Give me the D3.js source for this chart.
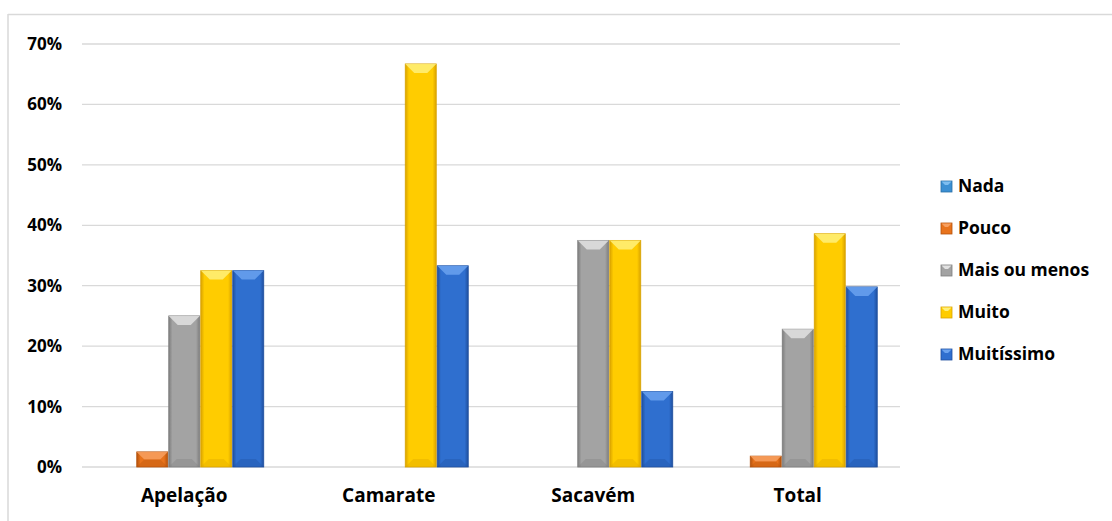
<!DOCTYPE html>
<html>
<head>
<meta charset="utf-8">
<script src="https://cdn.jsdelivr.net/npm/d3@7"></script>
<style>
html,body{margin:0;padding:0;background:#fff;}
svg{display:block;}
text{font-family:"Open Sans",sans-serif;font-weight:bold;fill:#000;}
</style>
</head>
<body>
<svg id="chart" width="1112" height="521"></svg>
<script>
const categories = ["Apelação", "Camarate", "Sacavém", "Total"];
const seriesNames = ["Nada", "Pouco", "Mais ou menos", "Muito", "Muitíssimo"];
const nada = [0, 0, 0, 0];
const pouco = [0.025, 0, 0, 0.018];
const maisOuMenos = [0.25, 0, 0.375, 0.228];
const muito = [0.325, 0.667, 0.375, 0.386];
const muitissimo = [0.325, 0.333, 0.125, 0.298];
const yTicks = [0, 0.1, 0.2, 0.3, 0.4, 0.5, 0.6, 0.7];
const colors = ["#3b8fd3", "#e8731c", "#a3a3a3", "#ffcc00", "#2f6fcf"];
const darkColors = ["#2a6ea6", "#b4520c", "#7d7d7d", "#d9a300", "#1f4f9e"];
const lightColors = ["#7dbdf0", "#f7a060", "#e2e2e2", "#fff07a", "#6aa2ee"];

const seriesValues = [nada, pouco, maisOuMenos, muito, muitissimo];
const FONT = "'Open Sans', sans-serif";

const svg = d3.select("#chart");
const defs = svg.append("defs");

// frame
svg.append("line").attr("x1", 8).attr("x2", 1112).attr("y1", 14.5).attr("y2", 14.5)
  .attr("stroke", "#d9d9d9").attr("stroke-width", 1.5);
svg.append("line").attr("x1", 8).attr("x2", 8).attr("y1", 14).attr("y2", 521)
  .attr("stroke", "#d9d9d9").attr("stroke-width", 1.5);

const x0 = d3.scaleBand().domain(categories).range([82, 900]).paddingInner(0.2176).paddingOuter(0.1088);
const x1 = d3.scaleBand().domain(seriesNames).range([0, x0.bandwidth()]);
const y = d3.scaleLinear().domain([0, 0.7]).range([467, 44]);

// gridlines
svg.append("g").selectAll("line").data(yTicks).join("line")
  .attr("x1", 82).attr("x2", 900)
  .attr("y1", d => y(d)).attr("y2", d => y(d))
  .attr("stroke", "#d9d9d9").attr("stroke-width", 1.3);

// y axis labels
const yAxis = d3.axisLeft(y).tickValues(yTicks).tickFormat(d3.format(".0%")).tickSize(0).tickPadding(0);
const gy = svg.append("g").attr("transform", "translate(62,0)").call(yAxis);
gy.select(".domain").remove();
gy.selectAll("text").style("font-size", "17px").style("font-family", FONT).style("font-weight", "bold").attr("fill", "#000");

// x axis labels
const xAxis = d3.axisBottom(x0).tickSize(0).tickPadding(0);
const gx = svg.append("g").attr("transform", "translate(0,488)").call(xAxis);
gx.select(".domain").remove();
gx.selectAll("text").style("font-size", "19px").style("font-family", FONT).style("font-weight", "bold").attr("fill", "#000").attr("dy", "0.71em");

// gradients
seriesNames.forEach((s, i) => {
  const g = defs.append("linearGradient").attr("id", "g" + i).attr("x1", "0").attr("x2", "1").attr("y1", "0").attr("y2", "0");
  g.append("stop").attr("offset", "0").attr("stop-color", darkColors[i]);
  g.append("stop").attr("offset", "0.12").attr("stop-color", colors[i]);
  g.append("stop").attr("offset", "0.5").attr("stop-color", colors[i]);
  g.append("stop").attr("offset", "0.88").attr("stop-color", colors[i]);
  g.append("stop").attr("offset", "1").attr("stop-color", darkColors[i]);
});

const data = [];
categories.forEach((c, ci) => {
  seriesNames.forEach((s, si) => {
    data.push({cat: c, ser: s, si: si, v: seriesValues[si][ci]});
  });
});

const bars = svg.append("g").selectAll("g").data(data.filter(d => d.v > 0)).join("g")
  .attr("transform", d => `translate(${x0(d.cat) + x1(d.ser)},0)`);

const bw = x1.bandwidth();
bars.append("rect")
  .attr("x", 0.5).attr("width", bw - 1)
  .attr("y", d => y(d.v)).attr("height", d => y(0) - y(d.v))
  .attr("fill", d => `url(#g${d.si})`)
  .attr("stroke", d => darkColors[d.si]).attr("stroke-width", 0.8);
// top bevel
bars.append("path")
  .attr("d", d => {
    const t = y(d.v), h = y(0) - t, b = Math.min(9, h / 2);
    return `M0.5,${t} L${bw - 0.5},${t} L${bw - 0.5 - b},${t + b} L${0.5 + b},${t + b} Z`;
  })
  .attr("fill", d => lightColors[d.si]).attr("opacity", 0.85);
// bottom bevel
bars.append("path")
  .attr("d", d => {
    const t = y(d.v), bot = y(0), h = bot - t, b = Math.min(8, h / 2);
    return `M0.5,${bot} L${bw - 0.5},${bot} L${bw - 0.5 - b},${bot - b} L${0.5 + b},${bot - b} Z`;
  })
  .attr("fill", d => darkColors[d.si]).attr("opacity", 0.35);

// legend
const legendY = [186, 228, 270, 312, 354];
const lg = svg.append("g").selectAll("g").data(seriesNames).join("g")
  .attr("transform", (d, i) => `translate(941,${legendY[i]})`);
lg.append("rect").attr("x", 0).attr("y", -5).attr("width", 11).attr("height", 11)
  .attr("fill", (d, i) => colors[i]).attr("stroke", (d, i) => darkColors[i]).attr("stroke-width", 0.8);
lg.append("path").attr("d", "M0.5,-4.5 L10.5,-4.5 L7,-1 L4,-1 Z").attr("fill", (d, i) => lightColors[i]);
lg.append("text").attr("x", 17).attr("y", 0).attr("dy", "0.36em")
  .style("font-size", "17.5px").style("font-family", FONT).text(d => d);
</script>
</body>
</html>
